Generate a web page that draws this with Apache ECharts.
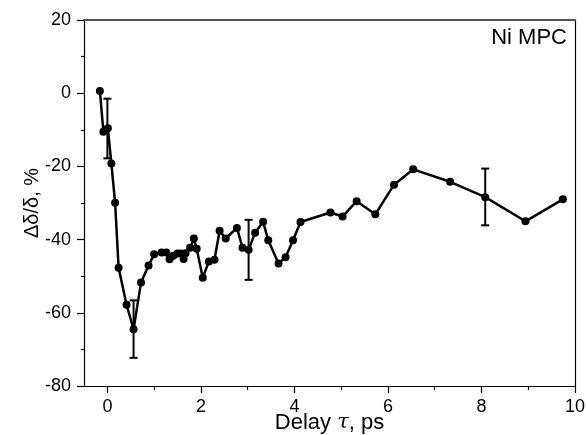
<!DOCTYPE html>
<html>
<head>
<meta charset="utf-8">
<script src="https://cdn.jsdelivr.net/npm/echarts@6/dist/echarts.min.js"></script>
<style>
  html, body { margin: 0; padding: 0; background: #fff; }
  #chart { width: 586px; height: 435px; }
</style>
</head>
<body>
<div id="chart"></div>
<script>
// 延迟时间 (ps)
const delay = [-0.16, -0.085, 0.01, 0.085, 0.165, 0.24, 0.41, 0.56, 0.72, 0.88, 1.0, 1.16, 1.26, 1.33, 1.41, 1.5, 1.57, 1.63, 1.67, 1.77, 1.85, 1.91, 2.04, 2.17, 2.29, 2.40, 2.53, 2.77, 2.89, 3.02, 3.16, 3.33, 3.44, 3.66, 3.81, 3.97, 4.13, 4.77, 5.03, 5.33, 5.73, 6.13, 6.54, 7.33, 8.08, 8.94, 9.74];
// Δδ/δ (%)
const signal = [0.6, -10.5, -9.6, -19.2, -29.9, -47.7, -57.8, -64.5, -51.7, -47.1, -44.0, -43.5, -43.5, -45.4, -44.4, -43.8, -43.8, -45.3, -43.7, -42.2, -39.7, -42.5, -50.4, -46.0, -45.5, -37.6, -39.7, -36.8, -42.2, -42.8, -38.1, -35.1, -40.2, -46.5, -44.8, -40.2, -35.2, -32.6, -33.7, -29.5, -33.1, -25.0, -20.8, -24.2, -28.4, -35.0, -29.0];

// 误差棒
const errX = [0.0, 0.56, 3.02, 8.08];
const errHigh = [-1.5, -56.6, -34.6, -20.6];
const errLow = [-17.8, -72.3, -51.0, -36.1];

// 刻度
const xTicks = [0, 2, 4, 6, 8, 10];
const xMinorTicks = [1, 3, 5, 7, 9];

const chart = echarts.init(document.getElementById('chart'));
const font = 'Liberation Sans, Arial, sans-serif';
const tickStyle = { color: '#000', width: 1.2 };

const option = {
  animation: false,
  grid: { left: 84, right: 11, top: 20, bottom: 49, outerBoundsMode: 'none' },
  xAxis: [{
    type: 'value',
    min: -0.5,
    max: 10,
    name: 'Delay {t|τ}, ps',
    nameLocation: 'middle',
    nameGap: 26,
    nameMoveOverlap: false,
    nameTextStyle: {
      fontFamily: font, fontSize: 22, color: '#000',
      rich: { t: { fontFamily: 'DejaVu Serif, Liberation Serif, serif', fontStyle: 'italic', fontSize: 21, color: '#000' } }
    },
    axisLine: { onZero: false, lineStyle: tickStyle },
    axisTick: { show: true, length: 7, lineStyle: tickStyle, customValues: xTicks },
    axisLabel: { fontFamily: font, fontSize: 18, color: '#000', margin: 12, customValues: xTicks },
    splitLine: { show: false }
  }, {
    type: 'value', position: 'top', min: -0.5, max: 10,
    axisLine: { show: true, onZero: false, lineStyle: { color: '#555', width: 2 } },
    axisTick: { show: false }, axisLabel: { show: false }, splitLine: { show: false }
  }, {
    // 次刻度
    type: 'value', position: 'bottom', min: -0.5, max: 10,
    axisLine: { show: false, onZero: false },
    axisTick: { show: true, length: 4, lineStyle: tickStyle, customValues: xMinorTicks },
    axisLabel: { show: false }, splitLine: { show: false }
  }],
  yAxis: [{
    type: 'value',
    min: -80,
    max: 20,
    interval: 20,
    name: 'Δδ/δ, %',
    nameLocation: 'middle',
    nameGap: 42,
    nameMoveOverlap: false,
    nameTextStyle: { fontFamily: font, fontSize: 20, color: '#000' },
    axisLine: { show: true, onZero: false, lineStyle: tickStyle },
    axisTick: { show: true, length: 7, lineStyle: tickStyle },
    minorTick: { show: true, splitNumber: 2, length: 3, lineStyle: tickStyle },
    axisLabel: { fontFamily: font, fontSize: 18, color: '#000', margin: 13 },
    splitLine: { show: false }
  }, {
    type: 'value', position: 'right', min: -80, max: 20,
    axisLine: { show: true, onZero: false, lineStyle: tickStyle },
    axisTick: { show: false }, axisLabel: { show: false }, splitLine: { show: false }
  }],
  graphic: [{
    type: 'text',
    right: 19,
    top: 27,
    style: { text: 'Ni MPC', font: '22px ' + font, fill: '#000' }
  }],
  series: [{
    type: 'line',
    data: delay.map((x, i) => [x, signal[i]]),
    symbol: 'circle',
    symbolSize: 8,
    itemStyle: { color: '#000' },
    lineStyle: { color: '#000', width: 2.5 },
    z: 3
  }, {
    type: 'custom',
    data: errX.map((x, i) => [x, errLow[i], errHigh[i]]),
    renderItem: (params, api) => {
      const lo = api.coord([api.value(0), api.value(1)]);
      const hi = api.coord([api.value(0), api.value(2)]);
      const w = 4;
      const style = { stroke: '#000', lineWidth: 2 };
      return {
        type: 'group',
        children: [
          { type: 'line', shape: { x1: lo[0], y1: lo[1], x2: hi[0], y2: hi[1] }, style },
          { type: 'line', shape: { x1: lo[0] - w, y1: lo[1], x2: lo[0] + w, y2: lo[1] }, style },
          { type: 'line', shape: { x1: hi[0] - w, y1: hi[1], x2: hi[0] + w, y2: hi[1] }, style }
        ]
      };
    },
    z: 2
  }]
};

chart.setOption(option);
</script>
</body>
</html>
